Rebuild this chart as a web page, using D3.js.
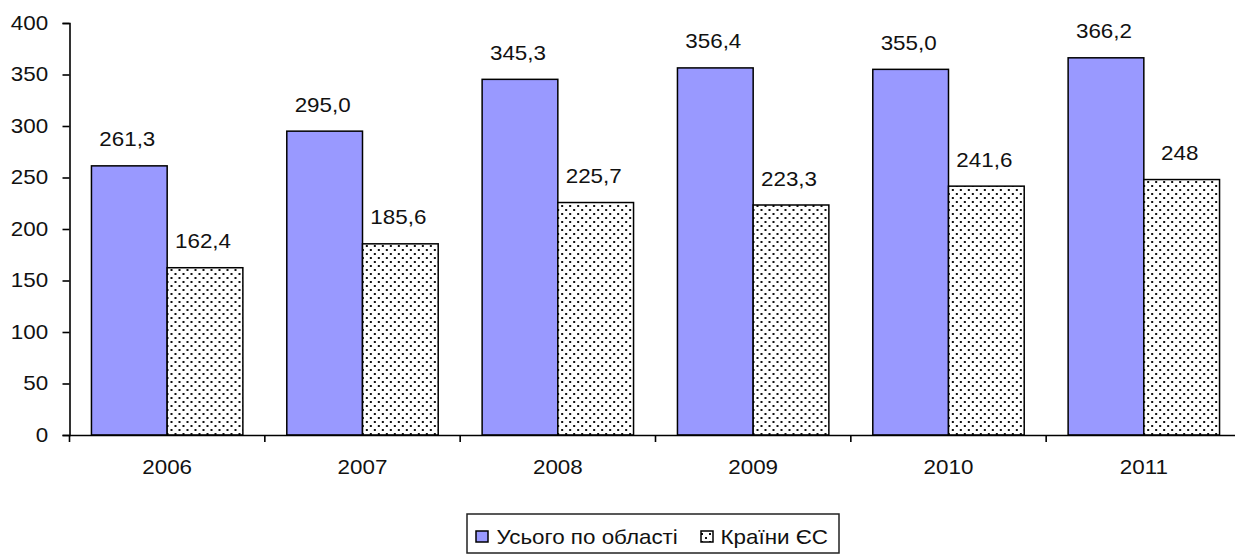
<!DOCTYPE html>
<html>
<head>
<meta charset="utf-8">
<script src="https://cdn.jsdelivr.net/npm/d3@7"></script>
<style>
  html, body { margin: 0; padding: 0; background: #fff; }
  svg { display: block; }
  text { font-family: "Liberation Sans", Arial, sans-serif; fill: #111; }
</style>
</head>
<body>
<svg id="chart" width="1235" height="555"></svg>
<script>
const years = ["2006", "2007", "2008", "2009", "2010", "2011"];
const totalValues = [261.3, 295.0, 345.3, 356.4, 355.0, 366.2];
const euValues = [162.4, 185.6, 225.7, 223.3, 241.6, 248];
const totalLabels = ["261,3", "295,0", "345,3", "356,4", "355,0", "366,2"];
const euLabels = ["162,4", "185,6", "225,7", "223,3", "241,6", "248"];
const yTicks = [0, 50, 100, 150, 200, 250, 300, 350, 400];
const seriesNames = ["Усього по області", "Країни ЄС"];

const SX = 1.12; // horizontal text stretch as in reference
const svg = d3.select("#chart");

const defs = svg.append("defs");
const pat = defs.append("pattern").attr("id", "dots")
  .attr("patternUnits", "userSpaceOnUse").attr("width", 8).attr("height", 8);
pat.append("rect").attr("width", 8).attr("height", 8).attr("fill", "#fff");
pat.append("rect").attr("x", 1).attr("y", 1).attr("width", 2).attr("height", 2).attr("fill", "#111");
pat.append("rect").attr("x", 5).attr("y", 5).attr("width", 2).attr("height", 2).attr("fill", "#111");

const x0 = d3.scaleBand().domain(years).range([69.5, 1241.5]).padding(0);
const x1 = d3.scaleBand().domain(["total", "eu"]).range([0, x0.bandwidth()]).paddingInner(0).paddingOuter(0.29);
const y = d3.scaleLinear().domain([0, 400]).range([435, 23]);

// bars
const groups = svg.append("g").selectAll("g").data(years).join("g")
  .attr("transform", d => `translate(${x0(d)},0)`);

groups.append("rect")
  .attr("x", x1("total")).attr("width", x1.bandwidth())
  .attr("y", (d, i) => y(totalValues[i]))
  .attr("height", (d, i) => y(0) - y(totalValues[i]))
  .attr("fill", "#9999ff").attr("stroke", "#000").attr("stroke-width", 1.5);

groups.append("rect")
  .attr("x", x1("eu")).attr("width", x1.bandwidth())
  .attr("y", (d, i) => y(euValues[i]))
  .attr("height", (d, i) => y(0) - y(euValues[i]))
  .attr("fill", "url(#dots)").attr("stroke", "#000").attr("stroke-width", 1.5);

// value labels
function stretchedText(sel, xf, yf, txt) {
  sel.append("text")
    .attr("transform", (d, i) => `translate(${xf(d, i)},${yf(d, i)}) scale(${SX},1)`)
    .attr("text-anchor", "middle")
    .attr("font-size", 20)
    .text(txt);
}
stretchedText(groups, () => x1("total") + x1.bandwidth() / 2 - 2, (d, i) => y(totalValues[i]) - 19.5, (d, i) => totalLabels[i]);
stretchedText(groups, () => x1("eu") + x1.bandwidth() / 2 - 2, (d, i) => y(euValues[i]) - 19.5, (d, i) => euLabels[i]);

// y axis
const yAxis = svg.append("g").attr("transform", "translate(69.5,0)")
  .call(d3.axisLeft(y).tickValues(yTicks).tickSizeOuter(0).tickSize(7).tickPadding(12));
yAxis.select(".domain").attr("stroke", "#000").attr("stroke-width", 1.6);
yAxis.selectAll(".tick line").attr("stroke", "#000").attr("stroke-width", 1.6);
yAxis.selectAll(".tick text")
  .attr("font-size", 20).attr("font-family", "Liberation Sans, Arial, sans-serif").attr("fill", "#111")
  .attr("transform", `scale(${SX},1)`);

// x axis
const xAxis = svg.append("g").attr("transform", "translate(0,435)")
  .call(d3.axisBottom(x0).tickSize(0).tickSizeOuter(0).tickPadding(25));
xAxis.select(".domain").attr("stroke", "#000").attr("stroke-width", 1.6);
xAxis.selectAll(".tick text")
  .attr("font-size", 20).attr("font-family", "Liberation Sans, Arial, sans-serif").attr("fill", "#111")
  .attr("transform", `scale(${SX},1)`).attr("x", 0).attr("text-anchor", "middle");
const boundaries = years.map(d => x0(d)).concat([x0(years[years.length - 1]) + x0.bandwidth()]);
xAxis.selectAll("line.bnd").data(boundaries).join("line").attr("class", "bnd")
  .attr("x1", d => d).attr("x2", d => d).attr("y1", 0).attr("y2", 7)
  .attr("stroke", "#000").attr("stroke-width", 1.6);

// legend
const lg = svg.append("g");
lg.append("rect").attr("x", 467).attr("y", 514).attr("width", 372).attr("height", 39)
  .attr("fill", "#fff").attr("stroke", "#222").attr("stroke-width", 1.5);
const legendItems = [
  { name: seriesNames[0], fill: "#9999ff", mx: 476, tx: 496.5 },
  { name: seriesNames[1], fill: "url(#dots)", mx: 701, tx: 720.5 }
];
const li = lg.selectAll("g.item").data(legendItems).join("g").attr("class", "item");
li.append("rect").attr("x", d => d.mx).attr("y", 531).attr("width", 12).attr("height", 11)
  .attr("fill", d => d.fill).attr("stroke", "#000").attr("stroke-width", 1.5);
li.append("text")
  .attr("transform", d => `translate(${d.tx},544) scale(${SX},1)`)
  .attr("font-size", 20)
  .text(d => d.name);
</script>
</body>
</html>
